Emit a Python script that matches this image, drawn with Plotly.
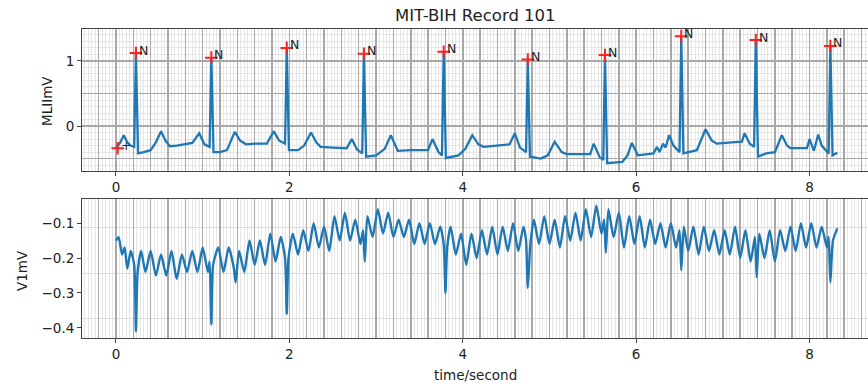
import plotly.graph_objects as go

# ---------------- data ----------------
title_text = "MIT-BIH Record 101"
x_label = "time/second"
lead_labels = ["MLIImV", "V1mV"]

x_tick_vals = [0, 2, 4, 6, 8]
top_tick_vals = [0, 1]
top_tick_text = ["0", "1"]
bottom_tick_vals = [-0.4, -0.3, -0.2, -0.1]
bottom_tick_text = ["\u22120.4", "\u22120.3", "\u22120.2", "\u22120.1"]

mlii_time = [0.00, 0.05, 0.09, 0.13, 0.17, 0.21, 0.23, 0.255, 0.32, 0.40, 0.46, 0.52, 0.57, 0.62, 0.70,
             0.80, 0.88, 0.96, 1.02, 1.08, 1.10, 1.125, 1.20, 1.28, 1.37, 1.43, 1.50, 1.60, 1.74, 1.82,
             1.88, 1.95, 1.97, 1.995, 2.10, 2.17, 2.25, 2.31, 2.36, 2.50, 2.66, 2.72, 2.78, 2.84, 2.86,
             2.885, 3.00, 3.10, 3.17, 3.25, 3.40, 3.60, 3.65, 3.72, 3.76, 3.78, 3.805, 3.95, 4.03, 4.11,
             4.18, 4.24, 4.40, 4.54, 4.60, 4.66, 4.73, 4.75, 4.775, 4.90, 4.98, 5.06, 5.14, 5.20, 5.47,
             5.51, 5.58, 5.62, 5.64, 5.665, 5.84, 5.90, 5.95, 6.02, 6.20, 6.24, 6.27, 6.31, 6.34, 6.38,
             6.43, 6.50, 6.52, 6.545, 6.70, 6.80, 6.87, 6.93, 7.10, 7.22, 7.25, 7.31, 7.36, 7.38, 7.405,
             7.50, 7.60, 7.68, 7.74, 7.78, 7.97, 8.00, 8.05, 8.10, 8.14, 8.22, 8.24, 8.265, 8.32]
mlii_mv = [-0.34, -0.25, -0.14, -0.25, -0.30, -0.32, 1.12, -0.42, -0.40, -0.37, -0.25, -0.08, -0.22, -0.31, -0.30,
           -0.28, -0.26, -0.11, -0.28, -0.32, 1.05, -0.40, -0.40, -0.37, -0.09, -0.22, -0.28, -0.27, -0.27, -0.08,
           -0.22, -0.27, 1.20, -0.37, -0.37, -0.30, -0.10, -0.25, -0.32, -0.33, -0.34, -0.20, -0.36, -0.42, 1.11,
           -0.47, -0.45, -0.35, -0.14, -0.38, -0.37, -0.37, -0.20, -0.40, -0.45, 1.14, -0.49, -0.45, -0.35, -0.14,
           -0.28, -0.32, -0.30, -0.28, -0.11, -0.33, -0.40, 1.02, -0.47, -0.50, -0.45, -0.24, -0.40, -0.43, -0.43,
           -0.27, -0.48, -0.52, 1.09, -0.57, -0.55, -0.45, -0.26, -0.45, -0.42, -0.32, -0.40, -0.27, -0.33, -0.14,
           -0.30, -0.40, 1.38, -0.42, -0.37, -0.05, -0.22, -0.27, -0.25, -0.24, -0.11, -0.27, -0.32, 1.32, -0.47,
           -0.42, -0.40, -0.14, -0.30, -0.34, -0.34, -0.20, -0.38, -0.13, -0.30, -0.42, 1.23, -0.45, -0.41]

v1_time = [0.00, 0.03, 0.07, 0.10, 0.13, 0.17, 0.21, 0.23, 0.25, 0.29, 0.34, 0.40, 0.46, 0.52, 0.58,
           0.64, 0.70, 0.76, 0.82, 0.88, 0.94, 1.00, 1.06, 1.08, 1.10, 1.12, 1.18, 1.24, 1.30, 1.36,
           1.38, 1.42, 1.48, 1.54, 1.60, 1.66, 1.72, 1.78, 1.84, 1.90, 1.95, 1.97, 1.99, 2.04, 2.10,
           2.16, 2.22, 2.28, 2.34, 2.40, 2.46, 2.52, 2.58, 2.64, 2.70, 2.76, 2.82, 2.85, 2.87, 2.90,
           2.96, 3.02, 3.08, 3.14, 3.20, 3.26, 3.32, 3.38, 3.44, 3.50, 3.56, 3.62, 3.68, 3.74, 3.78,
           3.80, 3.82, 3.86, 3.92, 3.98, 4.04, 4.10, 4.16, 4.22, 4.28, 4.34, 4.40, 4.46, 4.52, 4.58,
           4.64, 4.70, 4.73, 4.75, 4.78, 4.82, 4.88, 4.94, 5.00, 5.06, 5.12, 5.18, 5.24, 5.30, 5.36,
           5.42, 5.48, 5.54, 5.60, 5.63, 5.65, 5.68, 5.74, 5.80, 5.86, 5.92, 5.98, 6.04, 6.10, 6.16,
           6.22, 6.28, 6.34, 6.40, 6.46, 6.50, 6.52, 6.55, 6.60, 6.66, 6.72, 6.78, 6.84, 6.90, 6.96,
           7.02, 7.08, 7.14, 7.20, 7.26, 7.32, 7.37, 7.39, 7.42, 7.48, 7.54, 7.60, 7.66, 7.72, 7.78,
           7.84, 7.90, 7.96, 8.02, 8.08, 8.14, 8.20, 8.22, 8.24, 8.27, 8.32]
v1_mv = [-0.15, -0.14, -0.19, -0.17, -0.23, -0.18, -0.22, -0.41, -0.24, -0.18, -0.24, -0.18, -0.25, -0.19, -0.25,
         -0.18, -0.26, -0.19, -0.24, -0.18, -0.24, -0.17, -0.24, -0.21, -0.39, -0.22, -0.17, -0.24, -0.17, -0.23,
         -0.27, -0.18, -0.24, -0.15, -0.22, -0.15, -0.22, -0.13, -0.21, -0.14, -0.20, -0.36, -0.20, -0.13, -0.19,
         -0.12, -0.18, -0.10, -0.17, -0.11, -0.18, -0.08, -0.15, -0.07, -0.15, -0.09, -0.16, -0.12, -0.21, -0.08,
         -0.14, -0.06, -0.13, -0.07, -0.14, -0.09, -0.14, -0.09, -0.16, -0.10, -0.16, -0.10, -0.16, -0.11, -0.16,
         -0.30, -0.17, -0.11, -0.19, -0.13, -0.22, -0.13, -0.20, -0.12, -0.19, -0.11, -0.19, -0.11, -0.18, -0.10,
         -0.18, -0.11, -0.15, -0.285, -0.16, -0.09, -0.16, -0.08, -0.16, -0.09, -0.17, -0.08, -0.15, -0.07, -0.15,
         -0.06, -0.14, -0.05, -0.13, -0.09, -0.185, -0.06, -0.14, -0.07, -0.17, -0.08, -0.16, -0.08, -0.17, -0.09,
         -0.16, -0.10, -0.17, -0.10, -0.17, -0.12, -0.235, -0.11, -0.18, -0.11, -0.19, -0.11, -0.18, -0.12, -0.19,
         -0.12, -0.19, -0.11, -0.20, -0.12, -0.21, -0.14, -0.255, -0.13, -0.20, -0.12, -0.21, -0.12, -0.18, -0.11,
         -0.18, -0.10, -0.17, -0.10, -0.17, -0.11, -0.17, -0.14, -0.27, -0.15, -0.115]

ann_time = [0.02, 0.23, 1.10, 1.97, 2.86, 3.78, 4.75, 5.64, 6.52, 7.38, 8.24]
ann_mv = [-0.34, 1.12, 1.05, 1.20, 1.11, 1.14, 1.02, 1.09, 1.38, 1.32, 1.23]
ann_symbol = ["+", "N", "N", "N", "N", "N", "N", "N", "N", "N", "N"]

assert len(mlii_time) == len(mlii_mv)
assert len(v1_time) == len(v1_mv)

# ---------------- styling ----------------
W, H = 868, 386
X_DOM = [82 / W, 1.0]
TOP_DOM = [1 - 171 / H, 1 - 29 / H]
BOT_DOM = [1 - 338 / H, 1 - 199 / H]
X_RANGE = [-0.392, 8.674]
TOP_RANGE = [-0.69, 1.49]
BOT_RANGE = [-0.429, -0.031]

LINE = "#1f77b4"
MAJOR = "#a8a8a8"
MINOR = "#e6e6e6"
AXC = "#444444"
TXT = "#222222"
FONT = "DejaVu Sans"

fig = go.Figure()
fig.add_trace(go.Scatter(x=mlii_time, y=mlii_mv, mode="lines", line=dict(color=LINE, width=2.3),
                         xaxis="x", yaxis="y", showlegend=False, hoverinfo="skip"))
fig.add_trace(go.Scatter(x=ann_time, y=ann_mv, mode="markers",
                         marker=dict(symbol="cross-thin", size=9, line=dict(color="#ff2020", width=2)),
                         xaxis="x", yaxis="y", showlegend=False, hoverinfo="skip"))
fig.add_trace(go.Scatter(x=v1_time, y=v1_mv, mode="lines",
                         line=dict(color=LINE, width=2.4, shape="spline", smoothing=0.6),
                         xaxis="x2", yaxis="y2", showlegend=False, hoverinfo="skip"))
# empty traces so that the tick-label axes (overlays) are laid out
fig.add_trace(go.Scatter(x=[], y=[], mode="lines", xaxis="x3", yaxis="y3", showlegend=False, hoverinfo="skip"))
fig.add_trace(go.Scatter(x=[], y=[], mode="lines", xaxis="x4", yaxis="y4", showlegend=False, hoverinfo="skip"))

annotations = []
for t, v, s in zip(ann_time, ann_mv, ann_symbol):
    annotations.append(dict(x=t, y=v, xref="x", yref="y", text=s, showarrow=False,
                            xanchor="left", yanchor="middle", xshift=1, yshift=3,
                            font=dict(family=FONT, size=12.5, color=TXT)))
annotations.append(dict(x=476 / W, y=1 - 15 / H, xref="paper", yref="paper", text=title_text,
                        showarrow=False, xanchor="center", yanchor="middle",
                        font=dict(family=FONT, size=16.5, color=TXT)))
annotations.append(dict(x=476 / W, y=1 - 375 / H, xref="paper", yref="paper", text=x_label,
                        showarrow=False, xanchor="center", yanchor="middle",
                        font=dict(family=FONT, size=13.5, color=TXT)))
annotations.append(dict(x=47 / W, y=1 - 101 / H, xref="paper", yref="paper", text=lead_labels[0],
                        showarrow=False, textangle=-90, xanchor="center", yanchor="middle",
                        font=dict(family=FONT, size=13.5, color=TXT)))
annotations.append(dict(x=22 / W, y=1 - 271 / H, xref="paper", yref="paper", text=lead_labels[1],
                        showarrow=False, textangle=-90, xanchor="center", yanchor="middle",
                        font=dict(family=FONT, size=13.5, color=TXT)))


def grid_x(anchor):
    return dict(domain=X_DOM, anchor=anchor, range=X_RANGE, tick0=0, dtick=0.2,
                showgrid=True, gridcolor=MAJOR, gridwidth=1.5, showticklabels=False, ticks="",
                minor=dict(tick0=0, dtick=0.04, showgrid=True, gridcolor=MINOR, gridwidth=1, ticks=""),
                showline=True, mirror=True, linecolor=AXC, linewidth=1, zeroline=False)


def label_x(over, anchor):
    return dict(overlaying=over, anchor=anchor, range=X_RANGE, tickmode="array", tickvals=x_tick_vals,
                ticktext=[str(v) for v in x_tick_vals], ticks="outside", ticklen=4, tickcolor=AXC,
                showgrid=False, showline=False, zeroline=False, side="bottom",
                tickfont=dict(family=FONT, size=13.5, color=TXT))


def label_y(over, anchor, rng, vals, texts):
    return dict(overlaying=over, anchor=anchor, range=rng, tickmode="array", tickvals=vals,
                ticktext=texts, ticks="outside", ticklen=4, tickcolor=AXC, side="left",
                showgrid=False, showline=False, zeroline=False,
                tickfont=dict(family=FONT, size=13.5, color=TXT))


fig.update_layout(
    width=W, height=H,
    margin=dict(l=0, r=0, t=0, b=0, autoexpand=False),
    paper_bgcolor="white", plot_bgcolor="white",
    xaxis=grid_x("y"),
    xaxis2=grid_x("y2"),
    yaxis=dict(domain=TOP_DOM, anchor="x", range=TOP_RANGE, tick0=0, dtick=0.5,
               showgrid=True, gridcolor=MAJOR, gridwidth=1.5, showticklabels=False, ticks="",
               minor=dict(tick0=0, dtick=0.1, showgrid=True, gridcolor=MINOR, gridwidth=1, ticks=""),
               showline=True, mirror=False, linecolor=AXC, linewidth=1, zeroline=False),
    yaxis2=dict(domain=BOT_DOM, anchor="x2", range=BOT_RANGE, tick0=0, dtick=0.5,
                showgrid=True, gridcolor=MAJOR, gridwidth=1.5, showticklabels=False, ticks="",
                minor=dict(tick0=-0.114, dtick=0.13, showgrid=True, gridcolor="#dcdcdc", gridwidth=1, ticks=""),
                showline=True, mirror=False, linecolor=AXC, linewidth=1, zeroline=False),
    xaxis3=label_x("x", "y3"),
    xaxis4=label_x("x2", "y4"),
    yaxis3=label_y("y", "x3", TOP_RANGE, top_tick_vals, top_tick_text),
    yaxis4=label_y("y2", "x4", BOT_RANGE, bottom_tick_vals, bottom_tick_text),
    annotations=annotations,
)

fig.write_html("out.html", config={"displayModeBar": False, "staticPlot": True},
               post_script="document.body.style.margin='0';")
